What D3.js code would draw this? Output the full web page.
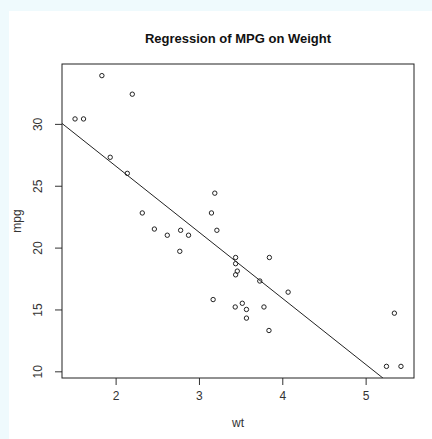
<!DOCTYPE html>
<html>
<head>
<meta charset="utf-8">
<script src="https://cdn.jsdelivr.net/npm/d3@7"></script>
<style>
  body { margin: 0; background: #effafd; }
  #chart { position: absolute; left: 0; top: 0; }
</style>
</head>
<body>
<div id="chart"></div>
<script>
  // mtcars: weight (1000 lbs) and miles per gallon
  const wt = [2.620, 2.875, 2.320, 3.215, 3.440, 3.460, 3.570, 3.190, 3.150, 3.440, 3.440,
    4.070, 3.730, 3.780, 5.250, 5.424, 5.345, 2.200, 1.615, 1.835, 2.465, 3.520,
    3.435, 3.840, 3.845, 1.935, 2.140, 1.513, 3.170, 2.770, 3.570, 2.780];
  const mpg = [21.0, 21.0, 22.8, 21.4, 18.7, 18.1, 14.3, 24.4, 22.8, 19.2, 17.8,
    16.4, 17.3, 15.2, 10.4, 10.4, 14.7, 32.4, 30.4, 33.9, 21.5, 15.5,
    15.2, 13.3, 19.2, 27.3, 26.0, 30.4, 15.8, 19.7, 15.0, 21.4];
  // lm(mpg ~ wt) coefficients
  const fitCoef = [37.285, -5.344];
  const xTicks = [2, 3, 4, 5];
  const yTicks = [10, 15, 20, 25, 30];

  const W = 432, H = 439;
  const margin = { top: 64, right: 18, bottom: 61, left: 62 };
  const width = W - margin.left - margin.right;
  const height = H - margin.top - margin.bottom;

  const svg = d3.select("#chart").append("svg")
    .attr("width", W)
    .attr("height", H);

  // white panel
  svg.append("rect")
    .attr("x", 9).attr("y", 11)
    .attr("width", W - 9).attr("height", H - 11)
    .attr("fill", "#ffffff");

  const g = svg.append("g")
    .attr("transform", `translate(${margin.left}, ${margin.top})`);

  // R style 4% padding
  const pad = (lo, hi) => [lo - (hi - lo) * 0.04, hi + (hi - lo) * 0.04];
  const x = d3.scaleLinear().domain(pad(d3.min(wt), d3.max(wt))).range([0, width]);
  const y = d3.scaleLinear().domain(pad(d3.min(mpg), d3.max(mpg))).range([height, 0]);

  const font = "'Liberation Sans', Arial, sans-serif";
  const textCol = "#333333";

  // x axis
  const xAxis = g.append("g")
    .attr("transform", `translate(0, ${height})`)
    .call(d3.axisBottom(x).tickValues(xTicks).tickSize(7).tickPadding(6).tickFormat(d3.format("d")));
  xAxis.select(".domain").remove();
  xAxis.selectAll("line").attr("stroke", "#333");
  xAxis.selectAll("text").attr("font-size", 12).attr("font-family", font).attr("fill", textCol);

  // y axis, labels rotated like R
  const yAxis = g.append("g")
    .call(d3.axisLeft(y).tickValues(yTicks).tickSize(7).tickFormat(d3.format("d")));
  yAxis.select(".domain").remove();
  yAxis.selectAll("line").attr("stroke", "#333");
  yAxis.selectAll("text")
    .attr("font-size", 12).attr("font-family", font).attr("fill", textCol)
    .attr("x", 0).attr("dy", null)
    .attr("text-anchor", "middle")
    .attr("transform", "translate(-20, 0) rotate(-90)");

  // box
  g.append("rect")
    .attr("width", width).attr("height", height)
    .attr("fill", "none").attr("stroke", "#222").attr("stroke-width", 1);

  // regression line clipped to plot region
  g.append("clipPath").attr("id", "clip")
    .append("rect").attr("width", width).attr("height", height);
  const xd = x.domain();
  g.append("line")
    .attr("clip-path", "url(#clip)")
    .attr("x1", x(xd[0])).attr("y1", y(fitCoef[0] + fitCoef[1] * xd[0]))
    .attr("x2", x(xd[1])).attr("y2", y(fitCoef[0] + fitCoef[1] * xd[1]))
    .attr("stroke", "#222").attr("stroke-width", 1);

  // points
  g.append("g").selectAll("circle")
    .data(d3.range(wt.length))
    .join("circle")
    .attr("cx", i => x(wt[i]))
    .attr("cy", i => y(mpg[i]))
    .attr("r", 2.2)
    .attr("fill", "none")
    .attr("stroke", "#222")
    .attr("stroke-width", 1);

  // titles
  svg.append("text")
    .attr("x", margin.left + width / 2).attr("y", 43)
    .attr("text-anchor", "middle")
    .attr("font-family", font).attr("font-size", 13).attr("font-weight", "bold")
    .attr("fill", "#111")
    .text("Regression of MPG on Weight");

  svg.append("text")
    .attr("x", margin.left + width / 2).attr("y", 427)
    .attr("text-anchor", "middle")
    .attr("font-family", font).attr("font-size", 12).attr("fill", textCol)
    .text("wt");

  svg.append("text")
    .attr("transform", `translate(21, ${margin.top + height / 2}) rotate(-90)`)
    .attr("text-anchor", "middle")
    .attr("font-family", font).attr("font-size", 12).attr("fill", textCol)
    .text("mpg");
</script>
</body>
</html>
